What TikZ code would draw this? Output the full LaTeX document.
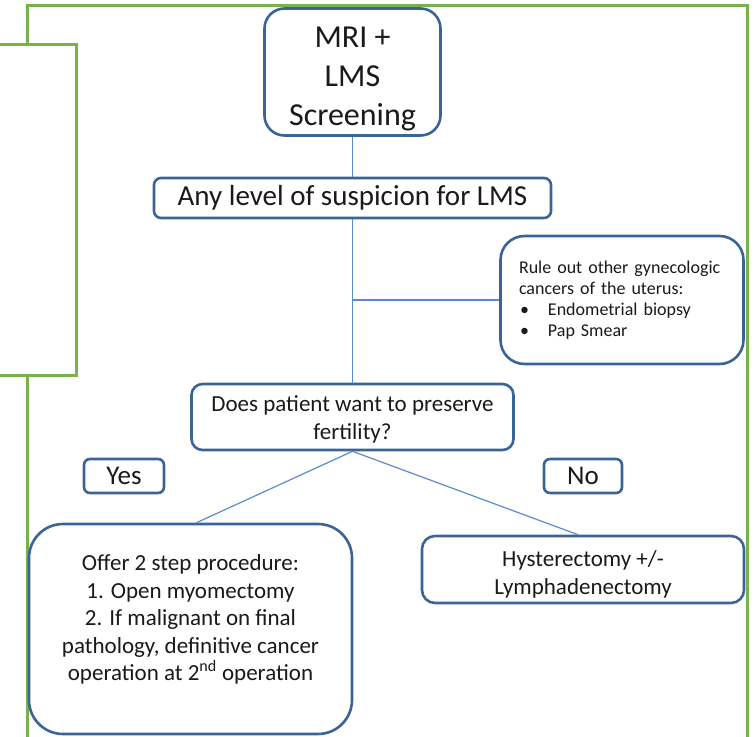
\documentclass[tikz,border=0pt]{standalone}
\usepackage{fontspec}
\setmainfont{Carlito}
\usepackage{xcolor}
\usepackage{tikz}
\definecolor{boxblue}{HTML}{3B6496}
\definecolor{linkblue}{HTML}{5B8BC9}
\definecolor{framegreen}{HTML}{77B24A}
\definecolor{inkdark}{HTML}{1A1A1A}
\newcommand{\listdot}{\makebox[29pt][l]{\hspace{1pt}\textbullet}}

\begin{document}
\begin{tikzpicture}[x=1pt, y=-1pt,
  box/.style={draw=boxblue, line width=2.6pt, fill=white, align=center, inner sep=0pt, text=inkdark},
  link/.style={draw=linkblue, line width=1.2pt},
  frame/.style={draw=framegreen, line width=3pt},
]
\useasboundingbox (0,0) rectangle (756,737);
\clip (0,0) rectangle (756,737);
% green frame and side panel
\draw[frame] (27,745) -- (27,5) -- (747,5) -- (747,745);
\draw[frame, fill=white] (-5,44) rectangle (76,375);

\node[box, rounded corners=20pt, minimum width=176pt, minimum height=127pt, font=\fontsize{32}{39}\selectfont] (mri) at (352.5,72) {\rule{0pt}{34pt}MRI +\\LMS\\Screening};
\node[box, rounded corners=7pt, minimum width=397pt, minimum height=40pt, font=\fontsize{29}{35}\selectfont] (susp) at (352.5,198) {Any level of suspicion for LMS};
\node[box, rounded corners=24pt, minimum width=243pt, minimum height=128pt, align=left, text width=206pt, font=\fontsize{18}{21}\selectfont] (ruleout) at (622,300) {Rule out other gynecologic\\cancers of the uterus:\\\listdot Endometrial biopsy\\\listdot Pap Smear};
\node[box, rounded corners=11pt, minimum width=322pt, minimum height=66pt, font=\fontsize{23}{28}\selectfont] (fert) at (352.5,417) {\rule{0pt}{21pt}Does patient want to preserve\\fertility?};
\node[box, rounded corners=6pt, minimum width=80pt, minimum height=34pt, font=\fontsize{27}{32}\selectfont] (yes) at (124,476) {Yes};
\node[box, rounded corners=6pt, minimum width=78pt, minimum height=34pt, font=\fontsize{27}{32}\selectfont] (no) at (583,476) {No};
\node[box, rounded corners=34pt, minimum width=323pt, minimum height=210pt, font=\fontsize{23}{27.5}\selectfont] (offer) at (190.5,629) {Offer 2 step procedure:\\1. Open myomectomy\\2. If malignant on final\\pathology, definitive cancer\\operation at 2\textsuperscript{nd} operation\\[-5pt]\mbox{}};
\node[box, rounded corners=13pt, minimum width=322pt, minimum height=67pt, font=\fontsize{23}{28}\selectfont] (hyst) at (583,569.5) {\rule{0pt}{25pt}Hysterectomy +/-\\Lymphadenectomy};

% connectors
\draw[link] (mri.south) -- (susp.north);
\draw[link] (susp.south) -- (fert.north);
\draw[link] (susp.south |- ruleout.west) -- (ruleout.west);
\draw[link] (fert.south) -- ([xshift=6pt]offer.north);
\draw[link] (fert.south) -- ([xshift=-5pt]hyst.north);
\end{tikzpicture}
\end{document}
